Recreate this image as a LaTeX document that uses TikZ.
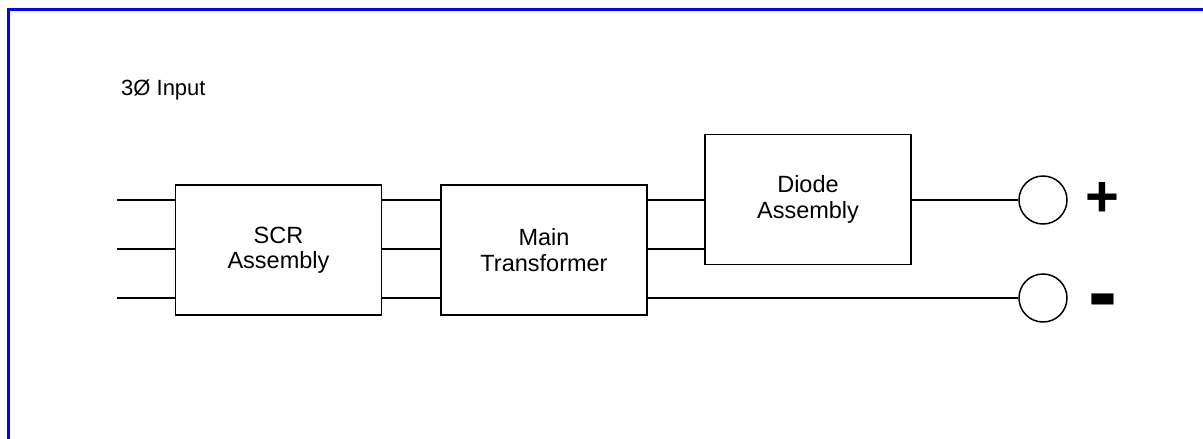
\documentclass[tikz,border=0pt]{standalone}
\usepackage{fontspec}
\setmainfont{Liberation Sans}
\usetikzlibrary{calc}
\begin{document}
\begin{tikzpicture}[x=1pt,y=-1pt,
  block/.style={draw, line width=1.4pt, minimum width=206pt, minimum height=130pt,
    inner sep=0pt, align=center, font=\fontsize{23.5}{25.5}\selectfont},
  wire/.style={line width=1.2pt},
  terminal/.style={draw, circle, line width=1.5pt, minimum size=48pt, inner sep=0pt},
  sign/.style={inner sep=0pt, font=\fontsize{58}{58}\selectfont\bfseries},
  label/.style={font=\fontsize{22}{25}\selectfont, inner sep=0pt}]
  \useasboundingbox (0,0) rectangle (1203,439);

  % page frame
  \draw[blue, line width=3pt] (8.5,445) -- (8.5,9.5) -- (1210,9.5);

  % title
  \node[label, anchor=base west] (title) at (121,95) {3Ø Input};

  % blocks
  \node[block] (scr) at (278.5,250) {SCR\\Assembly};
  \node[block] (tr)  at (544,250)   {Main\\Transformer};
  \node[block] (dio) at (808,199.5) {Diode\\Assembly};

  % output terminals
  \node[terminal] (pos) at (1043,200) {};
  \node[terminal] (neg) at (1043,298) {};
  \node[sign] (plus)  at (1102,199) {+};
  \node[sign] (minus) at (1103,309) {\scalebox{1.5}[1.6]{-}};

  % three-phase input lines
  \coordinate (in1) at (117,200);
  \coordinate (in2) at (117,249);
  \coordinate (in3) at (117,298);
  \draw[wire] (in1) -- (in1 -| scr.west);
  \draw[wire] (in2) -- (in2 -| scr.west);
  \draw[wire] (in3) -- (in3 -| scr.west);

  % SCR to transformer
  \draw[wire] (in1 -| scr.east) -- (in1 -| tr.west);
  \draw[wire] (in2 -| scr.east) -- (in2 -| tr.west);
  \draw[wire] (in3 -| scr.east) -- (in3 -| tr.west);

  % transformer to diodes and negative terminal
  \draw[wire] (in1 -| tr.east) -- (in1 -| dio.west);
  \draw[wire] (in2 -| tr.east) -- (in2 -| dio.west);
  \draw[wire] (tr.east |- neg.west) -- (neg.west);

  % diodes to positive terminal
  \draw[wire] (dio.east |- pos.west) -- (pos.west);
\end{tikzpicture}
\end{document}
